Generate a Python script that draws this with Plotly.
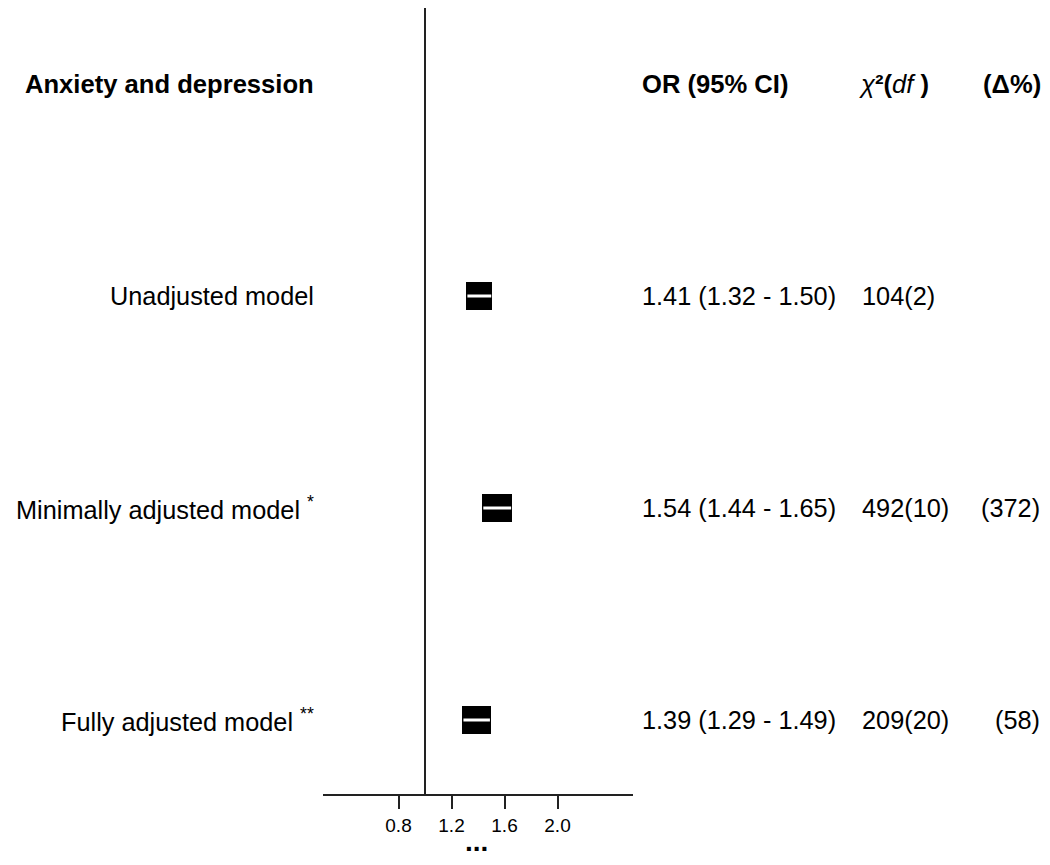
import plotly.graph_objects as go

# ---- data ----
header_title = "Anxiety and depression"
models = ["Unadjusted model", "Minimally adjusted model", "Fully adjusted model"]
model_marks = ["", "*", "**"]
or_est = [1.41, 1.54, 1.39]
ci_lo = [1.32, 1.44, 1.29]
ci_hi = [1.50, 1.65, 1.49]
chi2 = [104, 492, 209]
dfs = [2, 10, 20]
delta_pct = [None, 372, 58]
tick_vals = [0.8, 1.2, 1.6, 2.0]
tick_text = ["0.8", "1.2", "1.6", "2.0"]

# ---- layout helpers ----
W, H = 1050, 865
rows = [1, 2, 3]          # row index (0 = header row)
FONT = "Liberation Sans, Arial, Helvetica, sans-serif"
FS = 25.3      # body text
FSH = 25.6     # header text

fig = go.Figure()

# CI boxes
fig.add_trace(go.Bar(
    orientation="h", y=rows,
    x=[h - l for l, h in zip(ci_lo, ci_hi)], base=ci_lo,
    width=0.125, marker=dict(color="black", line=dict(color="black", width=2)),
    showlegend=False, hoverinfo="skip"))

# white CI line through each box
for r, l, h in zip(rows, ci_lo, ci_hi):
    fig.add_trace(go.Scatter(x=[l, h], y=[r, r], mode="lines",
                             line=dict(color="white", width=3),
                             showlegend=False, hoverinfo="skip"))

# reference line at OR = 1
fig.add_shape(type="line", xref="x", yref="paper", x0=1, x1=1, y0=0, y1=1,
              line=dict(color="#222", width=2))

ann = []
def px(xp):
    return xp / W

def font(size):
    return dict(size=size, family=FONT, color="black")

# header row
ann.append(dict(x=px(316), y=0, xref="paper", yref="y", text="<b>" + header_title + "</b>",
                xanchor="right", yanchor="middle", showarrow=False, font=font(FSH)))
ann.append(dict(x=px(640), y=0, xref="paper", yref="y", text="<b>OR (95% CI)</b>",
                xanchor="left", yanchor="middle", showarrow=False, font=font(FSH)))
ann.append(dict(x=px(857), y=0, xref="paper", yref="y",
                text="<i>χ</i><b>²(</b><i>df</i><b> )</b>",
                xanchor="left", yanchor="middle", showarrow=False, font=font(FSH)))
ann.append(dict(x=px(1043), y=0, xref="paper", yref="y", text="<b>(Δ%)</b>",
                xanchor="right", yanchor="middle", showarrow=False, font=font(FSH)))

for r, m, mk, e, l, h, c, d, dp in zip(rows, models, model_marks, or_est, ci_lo, ci_hi,
                                        chi2, dfs, delta_pct):
    label = m + (" <sup>" + mk + "</sup>" if mk else "")
    ann.append(dict(x=px(316), y=r, xref="paper", yref="y", text=label,
                    xanchor="right", yanchor="middle", showarrow=False, font=font(FS)))
    ann.append(dict(x=px(640), y=r, xref="paper", yref="y",
                    text=f"{e:.2f} ({l:.2f} - {h:.2f})",
                    xanchor="left", yanchor="middle", showarrow=False, font=font(FS)))
    ann.append(dict(x=px(860), y=r, xref="paper", yref="y", text=f"{c}({d})",
                    xanchor="left", yanchor="middle", showarrow=False, font=font(FS)))
    if dp is not None:
        ann.append(dict(x=px(1042), y=r, xref="paper", yref="y", text=f"({dp})",
                        xanchor="right", yanchor="middle", showarrow=False, font=font(FS)))

# ellipsis under the axis
ann.append(dict(x=1.39, y=-0.060, xref="x", yref="paper", text="<b>...</b>",
                xanchor="center", yanchor="middle", showarrow=False, font=font(28)))

# axis geometry: 1.0 at px 425, 132.5 px per unit, axis line 323..633
x0_px, x1_px = 323, 633
scale = 132.5
xr = [1 + (x0_px - 425) / scale, 1 + (x1_px - 425) / scale]

top_px, bot_px = 8, 794
row_step = 212.0
row0_px = 84.0
yr = [(bot_px - row0_px) / row_step, (top_px - row0_px) / row_step]

fig.update_layout(
    width=W, height=H,
    margin=dict(l=0, r=0, t=top_px, b=H - bot_px, pad=0),
    paper_bgcolor="white", plot_bgcolor="white",
    font=dict(family=FONT, color="black"),
    annotations=ann,
    xaxis=dict(domain=[x0_px / W, x1_px / W], range=xr, showgrid=False, zeroline=False,
               showline=True, linecolor="#222", linewidth=2,
               ticks="outside", ticklen=13, tickwidth=2, tickcolor="#222",
               tickvals=tick_vals, ticktext=tick_text,
               tickfont=font(19)),
    yaxis=dict(range=yr, visible=False, showgrid=False, zeroline=False),
    bargap=0,
)

fig.write_html("out.html", config={"displayModeBar": False},
               post_script="document.body.style.margin='0';document.body.style.overflow='hidden';")
